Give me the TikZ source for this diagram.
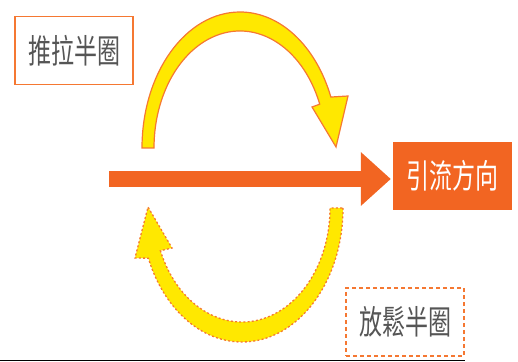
\documentclass[tikz,border=0pt]{standalone}
\usepackage{fontspec}
\newfontfamily\cjk{Noto Sans CJK TC}
\usetikzlibrary{arrows.meta,calc}
\definecolor{mainorange}{RGB}{242,101,34}
\definecolor{lineorange}{RGB}{245,120,50}
\definecolor{arcyellow}{RGB}{255,232,0}
\definecolor{textgray}{RGB}{85,85,85}
\tikzset{
  cjktext/.style={font=\cjk\fontsize{23}{23}\selectfont},
  labelbox/.style={minimum width=118pt, minimum height=68pt, inner sep=0pt, line width=1.4pt, text=textgray, cjktext},
  flowbox/.style={minimum width=119pt, minimum height=68pt, inner sep=0pt, fill=mainorange, text=white, cjktext},
  solidarc/.style={fill=arcyellow, draw=lineorange, line width=1.2pt, line join=miter},
  dashedarc/.style={fill=arcyellow, draw=lineorange, line width=1.3pt, dash pattern=on 2pt off 2.2pt},
  mainarrow/.style={draw=mainorange, line width=16pt, -{Triangle[length=30pt,width=52pt]}}
}
\newcommand{\tall}[1]{\scalebox{1}[1.45]{#1}}
\begin{document}
\begin{tikzpicture}[x=1pt,y=1pt]
\useasboundingbox (0,0) rectangle (518,361);
% label boxes
\node[labelbox, draw=lineorange] (push) at (74,310.5) {\tall{推拉半圈}};
\node[labelbox, draw=lineorange, dash pattern=on 4pt off 3pt] (relax) at (405,39) {\tall{放鬆半圈}};
\node[flowbox] (flow) at (452.5,185) {\tall{引流方向}};
% main arrow
\coordinate (start) at (109,182);
\draw[mainarrow, shorten >=2pt] (start) -- (start -| flow.west);
% top curved arrow (solid outline)
\path[solidarc] (142,213) arc[start angle=180, end angle=22, x radius=98pt, y radius=136pt]
  -- (348,265) -- (336,214) -- (312,254)
  -- ($(240,213)+(22:86pt and 117pt)$)
  arc[start angle=22, end angle=180, x radius=86pt, y radius=117pt] -- cycle;
% bottom curved arrow (dashed outline)
\path[dashedarc] (343,153) arc[start angle=0, end angle=-158, x radius=101pt, y radius=134pt]
  -- (135,103) -- (148,154) -- (172,113)
  -- ($(242,153)+(-158:88pt and 114pt)$)
  arc[start angle=-158, end angle=0, x radius=88pt, y radius=114pt] -- cycle;
% bottom rule
\draw[black, line width=1pt] (0,0.5) -- (465,0.5);
\end{tikzpicture}
\end{document}
